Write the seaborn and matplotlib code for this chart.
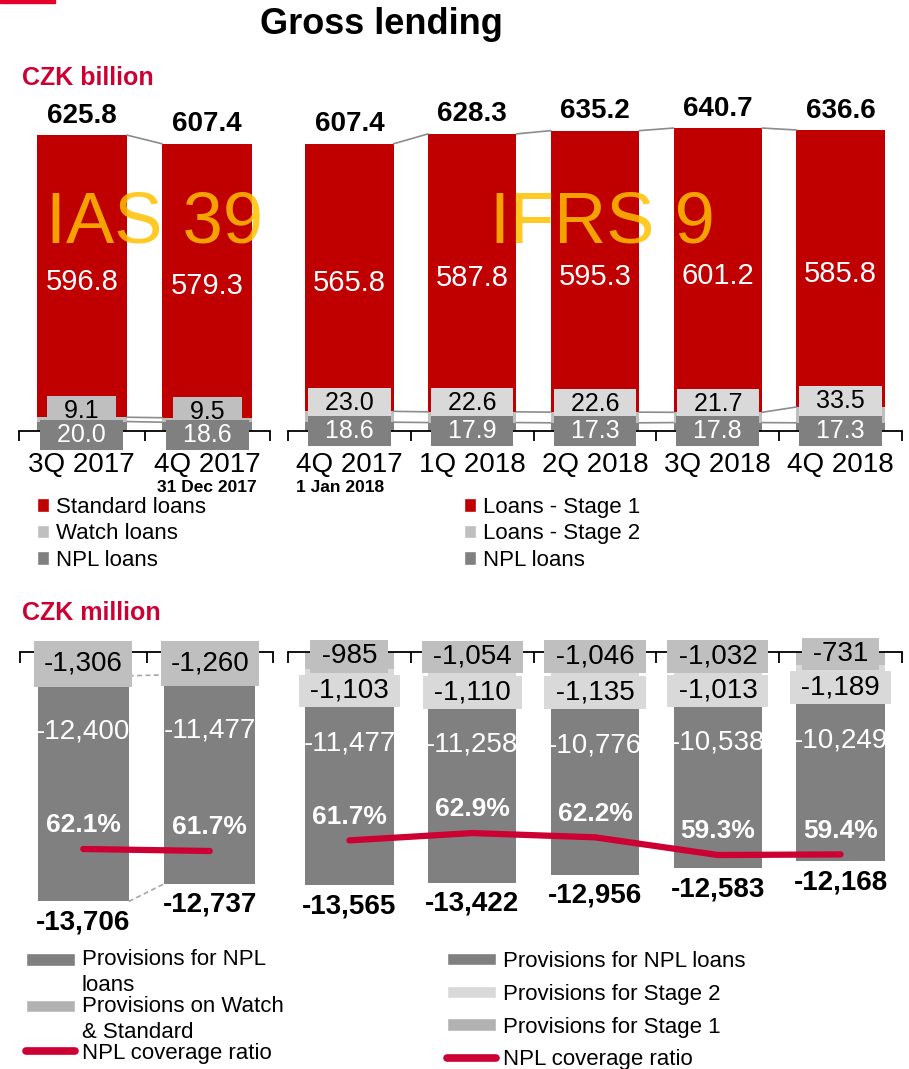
import matplotlib.pyplot as plt
import seaborn as sns
import numpy as np
from matplotlib.patches import Patch, Rectangle
from matplotlib.lines import Line2D

sns.set_theme(style='white')
plt.rcParams['font.family'] = ['Liberation Sans', 'DejaVu Sans']
plt.rcParams['text.color'] = 'black'

# Gross lending, CZK billion
ias_quarters = ['3Q 2017', '4Q 2017']
ias_standard = [596.8, 579.3]
ias_watch = [9.1, 9.5]
ias_npl = [20.0, 18.6]
ias_total = [625.8, 607.4]

ifrs_quarters = ['4Q 2017', '1Q 2018', '2Q 2018', '3Q 2018', '4Q 2018']
ifrs_stage1 = [565.8, 587.8, 595.3, 601.2, 585.8]
ifrs_stage2 = [23.0, 22.6, 22.6, 21.7, 33.5]
ifrs_npl = [18.6, 17.9, 17.3, 17.8, 17.3]
ifrs_total = [607.4, 628.3, 635.2, 640.7, 636.6]

# Provisions, CZK million
ias_prov_ws = [-1306, -1260]
ias_prov_npl = [-12400, -11477]
ias_prov_total = [-13706, -12737]
ias_coverage = [62.1, 61.7]

ifrs_prov_s1 = [-985, -1054, -1046, -1032, -731]
ifrs_prov_s2 = [-1103, -1110, -1135, -1013, -1189]
ifrs_prov_npl = [-11477, -11258, -10776, -10538, -10249]
ifrs_prov_total = [-13565, -13422, -12956, -12583, -12168]
ifrs_coverage = [61.7, 62.9, 62.2, 59.3, 59.4]

RED = '#C00000'
DARK = '#808080'
MID = '#BFBFBF'
LIGHT = '#D9D9D9'
LEG_MID = '#B2B2B2'
CRIMSON = '#CC0033'
GOLD = '#FFC000'
BAR_W = 0.72

W, H = 909, 1069


def fx(px):
    return px / W


def fy(py):
    return 1 - py / H


fig = plt.figure(figsize=(W / 100, H / 100), dpi=100)


def axes_px(left, top, right, bottom):
    return fig.add_axes([fx(left), fy(bottom), (right - left) / W,
                         (bottom - top) / H])


def label(ax, text, xy, dy, **kw):
    ax.annotate(text, xy, xytext=(0, dy), textcoords='offset points',
                ha='center', va='center', annotation_clip=False,
                clip_on=False, **kw)


def box(fc, pad=0.12):
    return dict(boxstyle=f'square,pad={pad}', fc=fc, ec='none')


def lending_panel(ax, quarters, top, mid, npl, total, mid_box, mid_dy,
                  npl_dy):
    n = len(quarters)
    x = np.arange(n)
    lower = np.array(npl)
    upper = lower + np.array(mid)
    for vals, base, color in [(npl, 0, DARK), (mid, lower, MID),
                              (top, upper, RED)]:
        sns.barplot(x=quarters, y=vals, bottom=base, color=color,
                    saturation=1, width=BAR_W, errorbar=None,
                    edgecolor='none', linewidth=0, ax=ax)
    # series lines between neighbouring bars
    for level in (total, upper, lower):
        for i in range(n - 1):
            ax.plot([x[i] + BAR_W / 2, x[i + 1] - BAR_W / 2],
                    [level[i], level[i + 1]], color='#8C8C8C', lw=1.2,
                    zorder=1)
    for i in range(n):
        label(ax, f'{total[i]:.1f}', (i, total[i]), 14, fontsize=20,
              fontweight='bold', color='black')
        label(ax, f'{top[i]:.1f}', (i, (upper[i] + total[i]) / 2), -4,
              fontsize=21, color='white')
        label(ax, f'  {mid[i]:.1f}  ', (i, (lower[i] + upper[i]) / 2),
              mid_dy, fontsize=18, color='black', bbox=box(mid_box),
              zorder=4)
        label(ax, f'  {npl[i]:.1f}  ', (i, lower[i] / 2), npl_dy,
              fontsize=18, color='white', bbox=box(DARK), zorder=5)
    ax.set_ylim(0, 700)
    ax.set_xlim(-0.5, n - 0.5)
    for s in ('top', 'left', 'right'):
        ax.spines[s].set_visible(False)
    ax.spines['bottom'].set_color('black')
    ax.spines['bottom'].set_linewidth(1.3)
    ax.set_xticks(np.arange(n + 1) - 0.5, [''] * (n + 1))
    ax.set_xticks(x, quarters, minor=True)
    ax.tick_params(axis='x', which='major', direction='out', length=7,
                   width=1.3, color='black', bottom=True)
    ax.tick_params(axis='x', which='minor', length=0, pad=15,
                   labelsize=20, labelcolor='black')
    ax.set_yticks([])
    ax.set_xlabel('')
    ax.set_ylabel('')


def provision_panel(ax, quarters, layers, npl, total, coverage, cov_lim,
                    ylim, dashed):
    n = len(quarters)
    x = np.arange(n)
    base = np.zeros(n)
    levels = []
    for vals, color, fc, dy, fmt, pad in layers:
        sns.barplot(x=quarters, y=vals, bottom=base, color=color,
                    saturation=1, width=BAR_W, errorbar=None,
                    edgecolor='none', linewidth=0, ax=ax)
        for i in range(n):
            label(ax, fmt.format(vals[i]), (i, base[i] + vals[i] / 2), dy,
                  fontsize=20, color='black', bbox=box(fc, pad), zorder=4)
        base = base + np.array(vals)
        levels.append(base.copy())
    sns.barplot(x=quarters, y=npl, bottom=base, color=DARK, saturation=1,
                width=BAR_W, errorbar=None, edgecolor='none', linewidth=0,
                ax=ax)
    for i in range(n):
        label(ax, f'{npl[i]:,.0f}', (i, base[i]), -40, fontsize=20,
              color='white')
        label(ax, f'{total[i]:,.0f}', (i, total[i]), -15, fontsize=20,
              fontweight='bold', color='black')
    if dashed:
        for level in (levels[0], total):
            for i in range(n - 1):
                ax.plot([x[i] + BAR_W / 2, x[i + 1] - BAR_W / 2],
                        [level[i], level[i + 1]], color='#A6A6A6', lw=1.2,
                        ls=(0, (3, 2)), zorder=1)
    ax.set_ylim(*ylim)
    for s in ('bottom', 'left', 'right'):
        ax.spines[s].set_visible(False)
    ax.spines['top'].set_color('black')
    ax.spines['top'].set_linewidth(1.3)
    ax.xaxis.tick_top()
    ax.set_xticks(np.arange(n + 1) - 0.5, [''] * (n + 1))
    ax.tick_params(axis='x', which='major', direction='in', length=8,
                   width=1.3, color='black', top=True, bottom=False,
                   labeltop=False, labelbottom=False)
    ax.set_yticks([])
    ax.set_xlabel('')
    ax.set_ylabel('')

    tw = ax.twinx()
    sns.lineplot(x=x, y=coverage, color=CRIMSON, linewidth=4.5,
                 solid_capstyle='round', ax=tw)
    for i in range(n):
        label(tw, f'{coverage[i]:.1f}%', (i, coverage[i]), 17, fontsize=19,
              fontweight='bold', color='white')
    tw.set_ylim(*cov_lim)
    tw.axis('off')
    ax.set_xlim(-0.5, n - 0.5)


ax_ias = axes_px(19, 100, 270, 431)
ax_ifrs = axes_px(288, 100, 902, 431)
ax_ias_p = axes_px(20, 652, 273, 930)
ax_ifrs_p = axes_px(288, 652, 902, 930)

lending_panel(ax_ias, ias_quarters, ias_standard, ias_watch, ias_npl,
              ias_total, MID, 6, -6)
lending_panel(ax_ifrs, ifrs_quarters, ifrs_stage1, ifrs_stage2, ifrs_npl,
              ifrs_total, LIGHT, 10, -3)

provision_panel(ax_ias_p, ias_quarters,
                [(ias_prov_ws, MID, MID, 0, '{:,.0f}', 0.35)],
                ias_prov_npl, ias_prov_total, ias_coverage, (45.9, 101.5),
                (-15275, 0), True)
provision_panel(ax_ifrs_p, ifrs_quarters,
                [(ifrs_prov_s1, MID, MID, 3, ' {:,.0f} ', 0.12),
                 (ifrs_prov_s2, LIGHT, LIGHT, -9, ' {:,.0f} ', 0.12)],
                ifrs_prov_npl, ifrs_prov_total, ifrs_coverage, (47.0, 92.6),
                (-16163, 0), False)

ax_ias.annotate('31 Dec 2017', (1, 0), xytext=(0, -41),
                textcoords='offset points', ha='center', va='center',
                fontsize=12.5, fontweight='bold', annotation_clip=False)
ax_ifrs.annotate('1 Jan 2018', (0, 0), xytext=(-7, -41),
                 textcoords='offset points', ha='center', va='center',
                 fontsize=12.5, fontweight='bold', annotation_clip=False)

# headings
fig.add_artist(Rectangle((0, fy(3)), fx(55), 3 / H,
                         transform=fig.transFigure, color='#E4002B'))
fig.text(fx(381), fy(25), 'Gross lending', ha='center', va='center',
         fontsize=26, fontweight='bold')
fig.text(fx(22), fy(78), 'CZK billion', ha='left', va='center',
         fontsize=18, fontweight='bold', color=CRIMSON)
fig.text(fx(22), fy(613), 'CZK million', ha='left', va='center',
         fontsize=18, fontweight='bold', color=CRIMSON)
fig.text(fx(155), fy(224), 'IAS 39', ha='center', va='center',
         fontsize=52, color=GOLD, alpha=0.85, zorder=10)
fig.text(fx(602), fy(224), 'IFRS 9', ha='center', va='center',
         fontsize=52, color=GOLD, alpha=0.85, zorder=10)

# legends
square = dict(frameon=False, fontsize=16, handlelength=0.55,
              handleheight=0.55, handletextpad=0.3, labelspacing=0.24,
              borderpad=0, borderaxespad=0, loc='upper left')
fig.legend(handles=[Patch(fc=RED), Patch(fc=MID), Patch(fc=DARK)],
           labels=['Standard loans', 'Watch loans', 'NPL loans'],
           bbox_to_anchor=(fx(37), fy(497)), **square)
fig.legend(handles=[Patch(fc=RED), Patch(fc=MID), Patch(fc=DARK)],
           labels=['Loans - Stage 1', 'Loans - Stage 2', 'NPL loans'],
           bbox_to_anchor=(fx(464), fy(497)), **square)

wide = dict(frameon=False, fontsize=16, handlelength=2.2, handleheight=0.5,
            handletextpad=0.3, borderpad=0, borderaxespad=0,
            loc='upper left')
line_handle = Line2D([], [], color=CRIMSON, lw=5.5, solid_capstyle='round')
leg = fig.legend(handles=[Patch(fc=DARK), Patch(fc=LEG_MID), line_handle],
                 labels=['Provisions for NPL\nloans',
                         'Provisions on Watch\n& Standard',
                         'NPL coverage ratio'],
                 bbox_to_anchor=(fx(26), fy(949)), labelspacing=0.0, **wide)
for t in leg.get_texts():
    t.set_linespacing(1.3)
# keep the swatch level with the first line of a two-line label
for h in leg.legend_handles[:2]:
    h.set_y(h.get_y() + 9.5)
fig.legend(handles=[Patch(fc=DARK), Patch(fc=LIGHT), Patch(fc=LEG_MID),
                    line_handle],
           labels=['Provisions for NPL loans', 'Provisions for Stage 2',
                   'Provisions for Stage 1', 'NPL coverage ratio'],
           bbox_to_anchor=(fx(447), fy(951)), labelspacing=0.53, **wide)

fig.savefig('out.png', dpi=100)
